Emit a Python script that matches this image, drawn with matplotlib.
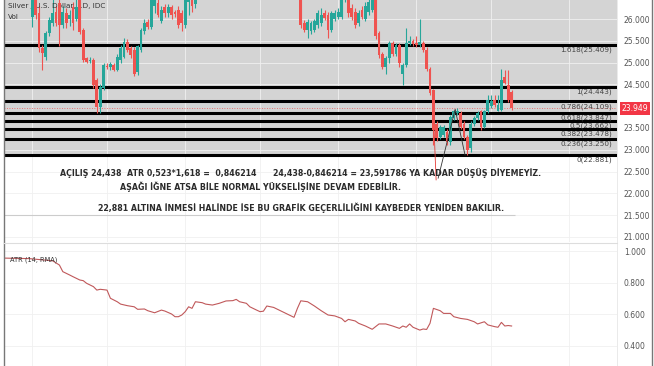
import numpy as np
import matplotlib.pyplot as plt
from matplotlib.lines import Line2D
from matplotlib.transforms import blended_transform_factory

# ---- data: XAG/USD daily candles (slot 0..149) ----
# None = candle is above the visible part of the chart
opens = ([None] * 8 +
         [26.05, 26.70, 26.13, 25.33, 25.14, 25.67, 25.90, 26.17, 26.36, 25.86,
          26.13, 26.00, 26.28, 25.99, 26.50, 25.75, 25.10, 25.03, 25.06, 24.60,
          23.99, 24.41, 24.93, 24.90, 24.95, 24.83, 25.06, 25.14, 25.48, 25.33,
          25.29, 24.78, 25.30, 25.72, 25.93, 25.82, 26.30, 26.36, 25.95, 26.28,
          26.13, 26.28, 26.15, 26.20, 26.13, 25.86, 26.40, 26.60, 26.35] +
         [None] * 30 +
         [26.60, 25.90, 25.75, 25.72, 25.75, 25.86, 25.90, 26.13, 26.09, 25.75,
          26.00, 26.05, 26.05, 26.50, 26.55, 26.25, 26.17, 25.90, 26.20, 26.00,
          26.15, 26.20, 26.50, 25.67, 25.20, 24.90, 25.10, 25.45, 25.20, 25.40,
          24.75, 24.95, 25.45, 25.50, 25.45, 25.40, 25.45, 25.30, 24.85, 24.37,
          23.60, 23.30, 23.35, 23.41, 23.19, 23.72, 23.85, 23.85, 23.60, 23.30,
          23.03, 23.60, 23.72, 23.88, 23.53, 23.88, 24.00, 24.14, 23.90, 23.92,
          24.68, 24.49, 24.33])
highs = ([None] * 8 +
         [26.80, 26.90, 26.30, 25.40, 25.72, 26.05, 26.50, 26.30, 26.50, 26.30,
          26.25, 26.20, 26.40, 26.50, 26.70, 25.80, 25.14, 25.12, 25.10, 24.65,
          24.50, 25.00, 25.00, 25.02, 25.00, 25.20, 25.40, 25.56, 25.55, 25.38,
          25.35, 25.40, 25.80, 26.00, 26.00, 26.80, 26.70, 26.50, 26.30, 26.35,
          26.35, 26.32, 26.20, 26.30, 26.20, 26.80, 26.90, 26.80, 26.90] +
         [None] * 30 +
         [26.80, 25.98, 26.00, 25.95, 26.00, 26.20, 26.25, 26.20, 26.15, 26.18,
          26.20, 26.25, 26.70, 26.90, 26.70, 26.35, 26.25, 26.20, 26.30, 26.40,
          26.50, 26.60, 26.60, 25.72, 25.25, 25.15, 25.50, 25.50, 25.45, 25.45,
          25.00, 25.79, 25.60, 25.55, 25.60, 26.00, 25.50, 25.35, 24.90, 24.40,
          23.65, 23.58, 23.58, 23.48, 23.80, 23.92, 23.97, 23.90, 23.65, 23.35,
          23.65, 23.78, 23.90, 23.92, 23.92, 24.25, 24.25, 24.25, 24.25, 24.85,
          24.83, 24.83, 24.38])
lows = ([None] * 8 +
        [25.82, 26.00, 25.25, 24.83, 25.06, 25.60, 25.85, 25.85, 25.37, 25.80,
         25.80, 25.85, 25.75, 25.95, 25.66, 25.02, 24.98, 24.99, 24.41, 23.84,
         23.85, 24.38, 24.85, 24.84, 24.80, 24.80, 25.00, 25.10, 25.25, 25.10,
         24.70, 24.72, 25.25, 25.65, 25.78, 25.78, 26.13, 26.05, 25.90, 26.05,
         26.05, 26.00, 26.05, 25.80, 25.72, 25.80, 26.09, 26.15, 26.25] +
        [None] * 30 +
        [25.79, 25.70, 25.56, 25.65, 25.70, 25.80, 25.85, 25.98, 25.56, 25.70,
         25.95, 26.00, 26.00, 26.40, 26.05, 25.98, 25.80, 25.85, 26.00, 25.95,
         26.10, 26.15, 25.55, 25.10, 24.85, 24.75, 25.00, 25.15, 25.15, 24.90,
         24.49, 24.90, 25.40, 25.38, 25.36, 25.35, 25.25, 24.80, 24.25, 23.10,
         23.20, 23.25, 23.30, 23.10, 23.10, 23.68, 23.80, 23.48, 23.25, 22.88,
         22.95, 23.55, 23.68, 23.45, 23.50, 23.85, 23.95, 23.98, 23.88, 23.90,
         24.50, 24.10, 23.92])
closes = ([None] * 8 +
          [26.60, 26.09, 25.33, 25.21, 25.67, 25.98, 26.13, 25.90, 25.86, 26.17,
           25.90, 26.10, 25.90, 26.28, 25.71, 25.06, 25.02, 25.07, 24.49, 23.99,
           24.45, 24.95, 24.90, 24.96, 24.83, 25.14, 25.33, 25.48, 25.29, 25.17,
           24.75, 25.37, 25.75, 25.90, 25.82, 26.60, 26.60, 26.10, 26.20, 26.13,
           26.28, 26.10, 26.12, 25.86, 25.90, 26.60, 26.70, 26.30, 26.70] +
          [None] * 30 +
          [25.86, 25.75, 25.94, 25.90, 25.95, 26.13, 26.10, 26.02, 25.75, 26.13,
           26.13, 26.15, 26.55, 26.75, 26.13, 26.05, 25.86, 26.13, 26.05, 26.30,
           26.40, 26.50, 25.60, 25.17, 24.90, 25.10, 25.45, 25.20, 25.40, 25.00,
           24.95, 25.45, 25.50, 25.42, 25.40, 25.47, 25.30, 24.85, 24.30, 23.45,
           23.26, 23.53, 23.52, 23.19, 23.76, 23.88, 23.90, 23.53, 23.30, 23.00,
           23.60, 23.72, 23.84, 23.53, 23.88, 24.14, 24.12, 24.03, 24.03, 24.60,
           24.53, 24.14, 23.95])
last_price = 23.949

# ATR(14, RMA) read at these candle slots
atr_day = [0, 7, 14, 16, 17, 19, 20, 22, 23, 24, 26, 27, 28, 30, 31, 33, 34, 36,
           38, 39, 41, 42, 44, 46, 47, 49, 50, 51, 52, 53, 54, 55, 56, 58, 59,
           61, 63, 65, 67, 68, 69, 71, 72, 74, 75, 76, 77, 79, 81, 83, 85, 86,
           87, 89, 91, 93, 95, 97, 99, 100, 101, 103, 104, 106, 108, 110, 112,
           114, 116, 117, 118, 119, 120, 122, 123, 124, 125, 126, 128, 129, 131,
           132, 134, 136, 138, 139, 141, 142, 144, 145, 146, 147, 148, 149]
atr_val = [0.955, 0.952, 0.938, 0.911, 0.869, 0.848, 0.837, 0.816, 0.812, 0.795,
           0.774, 0.752, 0.757, 0.752, 0.700, 0.678, 0.663, 0.653, 0.646, 0.630,
           0.632, 0.621, 0.608, 0.625, 0.619, 0.600, 0.583, 0.583, 0.594, 0.615,
           0.646, 0.636, 0.678, 0.672, 0.663, 0.657, 0.668, 0.683, 0.685, 0.693,
           0.678, 0.668, 0.646, 0.625, 0.615, 0.618, 0.651, 0.642, 0.621, 0.600,
           0.579, 0.636, 0.684, 0.678, 0.651, 0.621, 0.594, 0.588, 0.572, 0.551,
           0.566, 0.556, 0.541, 0.524, 0.503, 0.537, 0.537, 0.524, 0.509, 0.524,
           0.516, 0.537, 0.516, 0.498, 0.505, 0.502, 0.541, 0.636, 0.621, 0.604,
           0.604, 0.583, 0.572, 0.566, 0.551, 0.537, 0.551, 0.531, 0.520, 0.516,
           0.547, 0.524, 0.527, 0.524]

# fibonacci retracement levels
fib_ratio = ["1.618", "1", "0.786", "0.618", "0.5", "0.382", "0.236", "0"]
fib_price = [25.409, 24.443, 24.109, 23.847, 23.662, 23.478, 23.250, 22.881]

# lines drawn by hand on the chart
pen_x = [127.4, 132.4, 135.3]
pen_y = [22.35, 23.93, 22.88]
red_pen_x = [126.2, 126.8]
red_pen_y = [23.45, 22.31]

price_ticks = [26.0, 25.5, 25.0, 24.5, 23.5, 23.0, 22.5, 22.0, 21.5, 21.0]
atr_ticks = [1.0, 0.8, 0.6, 0.4]
month_slots = [8, 30, 53, 75, 98, 121, 143, 166]

notes = [
    "AÇILIŞ 24,438  ATR 0,523*1,618 =  0,846214      24,438-0,846214 = 23,591786 YA KADAR DÜŞÜŞ DİYEMEYİZ.",
    "AŞAĞI İĞNE ATSA BİLE NORMAL YÜKSELİŞİNE DEVAM EDEBİLİR.",
    "22,881 ALTINA İNMESİ HALİNDE İSE BU GRAFİK GEÇERLİLİĞİNİ KAYBEDER YENİDEN BAKILIR.",
]

UP, DOWN = "#26a69a", "#ef5350"
W, H = 654, 366

o = np.array(opens, dtype=float)
h = np.array(highs, dtype=float)
l = np.array(lows, dtype=float)
c = np.array(closes, dtype=float)
x = np.arange(len(o))
ok = ~np.isnan(o)

fig = plt.figure(figsize=(W / 100, H / 100), dpi=100)
ax = fig.add_axes([4 / W, 1 - 242 / H, 613 / W, 242 / H])
ax2 = fig.add_axes([4 / W, 0, 613 / W, 123 / H])

# ---- price pane ----
ax.set_xlim(-0.3, 180)
ax.set_ylim(20.885, 26.436)
ax.axhspan(fib_price[-1], 30, color="#d4d4d4", zorder=1, lw=0)

col = np.where(c >= o, UP, DOWN)
ax.vlines(x[ok], l[ok], h[ok], colors=col[ok], lw=0.8, zorder=3)
body = np.abs(c - o)
body = np.where(body < 0.025, 0.025, body)
ax.bar(x[ok], body[ok], bottom=np.minimum(o, c)[ok], width=0.82,
       color=col[ok], lw=0, zorder=4)

for r, p in zip(fib_ratio, fib_price):
    ax.axhline(p, color="black", lw=2.2, zorder=2)
    ax.text(178.5, p - 0.045, f"{r}({p:.3f})", ha="right", va="top",
            fontsize=5.2, color="#444444", zorder=5)

ax.axhline(last_price, color=DOWN, lw=0.6, ls=(0, (1, 2)), zorder=2)
ax.hlines(21.5, -0.3, 150, color="#cccccc", lw=0.8, zorder=2)

ax.plot(red_pen_x, red_pen_y, color="#e53935", lw=0.6, zorder=6)
ax.plot(pen_x, pen_y, color="#333333", lw=0.6, zorder=6)

ax.set_xticks(month_slots)
ax.set_yticks(price_ticks)
ax.yaxis.set_major_formatter(plt.FuncFormatter(lambda v, _: f"{v:.3f}"))
ax.yaxis.tick_right()
ax.tick_params(axis="y", length=0, pad=5, labelsize=5.5, labelcolor="#555555")
ax.tick_params(axis="x", length=0, labelbottom=False)
ax.grid(True, color="#f0f0f0", lw=0.6, zorder=0)
for s in ax.spines.values():
    s.set_visible(False)

tr = blended_transform_factory(ax.transAxes, ax.transData)
ax.text(1.008, last_price, f"{last_price:.3f}", transform=tr, ha="left",
        va="center", fontsize=5.5, color="white", clip_on=False,
        bbox=dict(boxstyle="square,pad=0.25", fc="#f23645", ec="none"))

ax.text(0.007, 0.975, "Silver / U.S. Dollar, 1D, IDC", transform=ax.transAxes,
        fontsize=5.2, color="#333333", va="center")
ax.text(0.007, 0.93, "Vol", transform=ax.transAxes, fontsize=5.2,
        color="#333333", va="center")

# ---- ATR pane ----
ax2.set_xlim(-0.3, 180)
ax2.set_ylim(0.270, 1.051)
ax2.plot(atr_day, atr_val, color="#c0585a", lw=0.8, zorder=3)
ax2.set_xticks(month_slots)
ax2.set_yticks(atr_ticks)
ax2.yaxis.set_major_formatter(plt.FuncFormatter(lambda v, _: f"{v:.3f}"))
ax2.yaxis.tick_right()
ax2.tick_params(axis="y", length=0, pad=5, labelsize=5.5, labelcolor="#555555")
ax2.tick_params(axis="x", length=0, labelbottom=False)
ax2.grid(True, color="#f0f0f0", lw=0.6, zorder=0)
for s in ax2.spines.values():
    s.set_visible(False)
ax2.text(0.01, 0.86, "ATR (14, RMA)", transform=ax2.transAxes, fontsize=4.8,
         color="#333333", va="center")

# ---- text notes written on the chart ----
for txt, cx, cy in zip(notes, [301, 261, 301], [173, 187, 208]):
    fig.text(cx / W, 1 - cy / H, txt, ha="center", va="center", fontsize=5.7,
             fontweight="bold", color="#2b2b2b")

# frame and pane separators
fig.add_artist(Line2D([4 / W, 4 / W], [0, 1], color="#777777", lw=1.0))
fig.add_artist(Line2D([652 / W, 652 / W], [0, 1], color="#777777", lw=1.0))
fig.add_artist(Line2D([617 / W, 617 / W], [0, 1], color="#e6e6e6", lw=0.6))
fig.add_artist(Line2D([4 / W, 617 / W], [1 - 242.5 / H] * 2, color="#dddddd", lw=0.8))

fig.savefig("out.png", dpi=100)
